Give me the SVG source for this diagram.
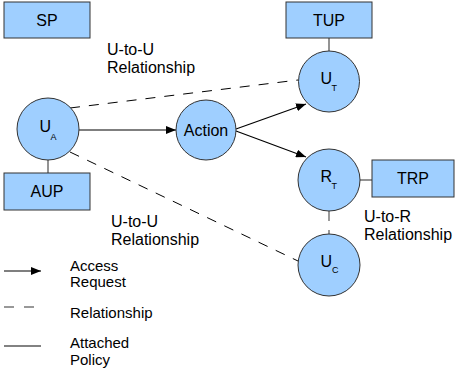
<svg xmlns="http://www.w3.org/2000/svg" width="455" height="371" viewBox="0 0 455 371">
<style>
text{font-family:"Liberation Sans",Arial,sans-serif;fill:#000}
.node{fill:#9fcfff;stroke:#333;stroke-width:1}
.lbl{font-size:16px}
.leg{font-size:15px}
.big{font-size:16px}
.sub{font-size:9px}
.box{font-size:16px;text-anchor:middle}
.arrow{stroke:#000;stroke-width:1.2;fill:none;marker-end:url(#ah)}
.dash{stroke:#000;stroke-width:1;fill:none;stroke-dasharray:10,9}
.pol{stroke:#595959;stroke-width:1.3;fill:none}
</style>
<defs>
<marker id="ah" viewBox="0 0 10 8" refX="10" refY="4" markerWidth="10" markerHeight="8" markerUnits="userSpaceOnUse" orient="auto">
<path d="M0,0 L10,4 L0,8 z" fill="#000"/>
</marker>
</defs>
<rect width="455" height="371" fill="#fff"/>
<g id="connectors">
<line class="pol" x1="48" y1="160" x2="48" y2="173"/>
<line class="pol" x1="329" y1="38" x2="329" y2="51"/>
<line class="pol" x1="360" y1="180" x2="372" y2="180"/>
<line x1="329" y1="211" x2="329" y2="234" stroke="#666" stroke-width="1.3" stroke-dasharray="10,9"/>
<line class="dash" x1="70" y1="108" x2="298" y2="80"/>
<line class="dash" x1="70" y1="152" x2="298" y2="261"/>
<line class="arrow" x1="79" y1="130" x2="176" y2="130"/>
<line class="arrow" x1="236" y1="129" x2="306" y2="104"/>
<line class="arrow" x1="236" y1="131" x2="306" y2="157"/>
</g>
<g id="SP"><rect class="node" x="4" y="2" width="86" height="36"/><text class="box" x="47" y="26">SP</text></g>
<g id="TUP"><rect class="node" x="286" y="2" width="86" height="36"/><text class="box" x="329" y="26">TUP</text></g>
<g id="AUP"><rect class="node" x="4" y="173" width="86" height="37"/><text class="box" x="47" y="197">AUP</text></g>
<g id="TRP"><rect class="node" x="372" y="160" width="82" height="37"/><text class="box" x="413" y="184">TRP</text></g>
<g id="UA"><circle class="node" cx="48" cy="129" r="31"/><text class="big" x="39.5" y="132">U</text><text class="sub" x="50.5" y="140">A</text></g>
<g id="Action"><circle class="node" cx="206" cy="130" r="30"/><text class="box" x="206" y="136">Action</text></g>
<g id="UT"><circle class="node" cx="329" cy="81.5" r="30.5"/><text class="big" x="320.5" y="84">U</text><text class="sub" x="331.5" y="91">T</text></g>
<g id="RT"><circle class="node" cx="329" cy="180" r="31"/><text class="big" x="320.5" y="182">R</text><text class="sub" x="331.5" y="188.5">T</text></g>
<g id="UC"><circle class="node" cx="329" cy="265" r="31"/><text class="big" x="320.5" y="267">U</text><text class="sub" x="332" y="273">C</text></g>
<g id="labels">
<text class="lbl" x="107" y="55">U-to-U</text>
<text class="lbl" x="107" y="73">Relationship</text>
<text class="lbl" x="111" y="227">U-to-U</text>
<text class="lbl" x="111" y="245">Relationship</text>
<text class="lbl" x="364" y="222">U-to-R</text>
<text class="lbl" x="364" y="240">Relationship</text>
</g>
<g id="legend">
<line class="arrow" x1="4" y1="271" x2="41" y2="271"/>
<line x1="4" y1="307" x2="34" y2="307" stroke="#777" stroke-width="1.3" stroke-dasharray="10,10"/>
<line class="pol" x1="4" y1="346" x2="41" y2="346" stroke="#777"/>
<text class="leg" x="70" y="271">Access</text>
<text class="leg" x="70" y="287">Request</text>
<text class="leg" x="70" y="318">Relationship</text>
<text class="leg" x="70" y="348">Attached</text>
<text class="leg" x="70" y="365">Policy</text>
</g>
</svg>
